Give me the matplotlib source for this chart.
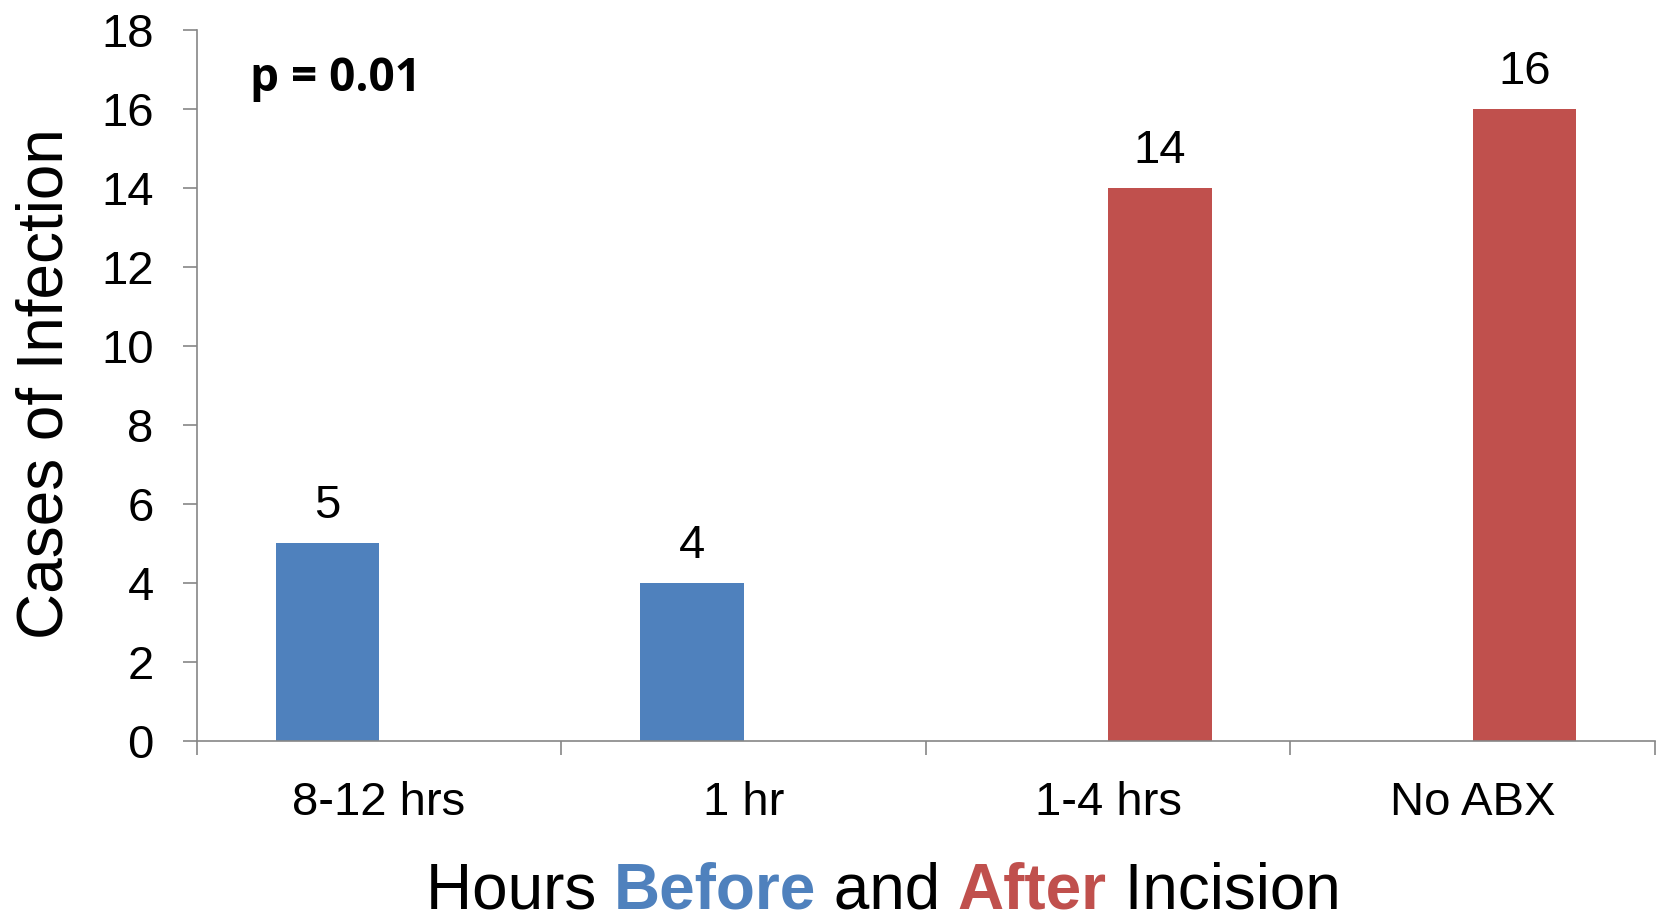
import matplotlib.pyplot as plt
import numpy as np

categories = ['8-12 hrs', '1 hr', '1-4 hrs', 'No ABX']
before = [5, 4, 0, 0]
after = [0, 0, 14, 16]
y_ticks = [0, 2, 4, 6, 8, 10, 12, 14, 16, 18]

blue = '#4F81BD'
red = '#C0504D'
axis_gray = '#868686'

plt.rcParams['font.family'] = ['Liberation Sans', 'DejaVu Sans']

fig = plt.figure(figsize=(16.59, 9.13), dpi=100)
ax = fig.add_axes([0.1186, 0.1887, 0.9976 - 0.1186, 0.9676 - 0.1887])

x = np.arange(len(categories))
w = 0.284
b1 = ax.bar(x - w / 2, before, w, color=blue)
b2 = ax.bar(x + w / 2, after, w, color=red)

# value labels, only for the bars that are there
for bars, vals in [(b1, before), (b2, after)]:
    for rect, v in zip(bars, vals):
        if v == 0:
            continue
        ax.annotate(str(v), (rect.get_x() + rect.get_width() / 2, v),
                    xytext=(0, 18), textcoords='offset points',
                    ha='center', va='baseline', fontsize=34)

ax.set_xlim(-0.5, 3.5)
ax.set_ylim(0, 18)
ax.set_yticks(y_ticks)
ax.tick_params(axis='y', labelsize=34, length=10, width=1.2, color=axis_gray, pad=21)

ax.set_xticks(x)
ax.set_xticklabels(categories)
ax.set_xticks(np.arange(-0.5, 4, 1), minor=True)
ax.tick_params(axis='x', which='major', length=0, labelsize=34, pad=29)
ax.tick_params(axis='x', which='minor', length=10, width=1.2, color=axis_gray)

for s in ['top', 'right']:
    ax.spines[s].set_visible(False)
for s in ['left', 'bottom']:
    ax.spines[s].set_color(axis_gray)
    ax.spines[s].set_linewidth(1.2)

# y label
fig.text(63 / 1659, 1 - 384 / 913, 'Cases of Infection', rotation=90,
         rotation_mode='anchor', ha='center', va='baseline', fontsize=46)

# p value
fig.text(249.7 / 1659, 1 - 91 / 913, 'p = 0.01', family=['Open Sans', 'DejaVu Sans'],
         fontweight='bold', fontsize=33, ha='left', va='baseline')

# x label with coloured words
pieces = [('Hours ', 'black', 'normal'), ('Before', blue, 'bold'),
          (' and ', 'black', 'normal'), ('After', red, 'bold'),
          (' Incision', 'black', 'normal')]
fig.canvas.draw()
renderer = fig.canvas.get_renderer()
texts = []
for s, c, fw in pieces:
    t = fig.text(0, 0, s, color=c, fontweight=fw, fontsize=46, va='baseline')
    texts.append(t)
widths = [t.get_window_extent(renderer).width for t in texts]
total = sum(widths)
x0 = (883.0 - total / 2)
for t, wd in zip(texts, widths):
    t.set_position((x0 / 1659, 1 - 908 / 913))
    x0 += wd

fig.savefig('out.png', dpi=100)
